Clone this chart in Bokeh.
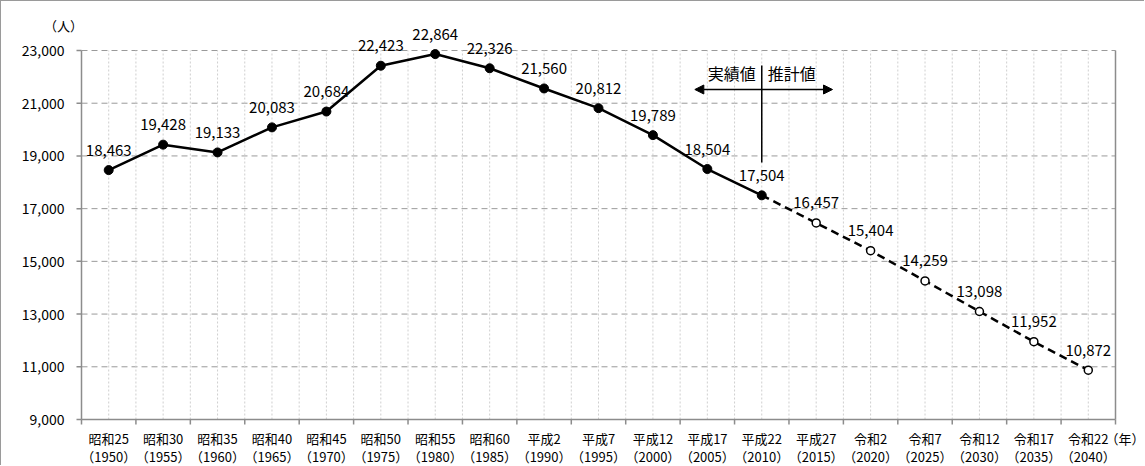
from bokeh.plotting import figure
from bokeh.models import (Range1d, LabelSet, Label, Arrow, NormalHead, ColumnDataSource)
from bokeh.core.properties import value
from bokeh.embed import file_html
from bokeh.resources import INLINE

# ---- data ----
eras = ["昭和25", "昭和30", "昭和35", "昭和40", "昭和45", "昭和50", "昭和55", "昭和60",
        "平成2", "平成7", "平成12", "平成17", "平成22", "平成27",
        "令和2", "令和7", "令和12", "令和17", "令和22"]
years = ["1950", "1955", "1960", "1965", "1970", "1975", "1980", "1985", "1990", "1995",
         "2000", "2005", "2010", "2015", "2020", "2025", "2030", "2035", "2040"]
actual = [18463, 19428, 19133, 20083, 20684, 22423, 22864, 22326, 21560, 20812,
          19789, 18504, 17504]
projected = [16457, 15404, 14259, 13098, 11952, 10872]
y_ticks = [9000, 11000, 13000, 15000, 17000, 19000, 21000, 23000]

FONT = "Noto Sans CJK JP"
GREY = "#8c8c8c"
GRID = "#9a9a9a"
n = len(eras)
centers = [i + 0.5 for i in range(n)]
bounds = list(range(n + 1))
n_act = len(actual)
YMIN, YMAX = y_ticks[0], y_ticks[-1]

# ---- page geometry (pixels) of the plotting area ----
W, H = 1144, 465               # canvas (plus 1px border left/top)
PX_LEFT, PX_RIGHT = 81, 1115   # x of category 0 start / last category end
PX_TOP, PX_BOTTOM = 50, 419    # y of YMAX / YMIN
ux = (PX_RIGHT - PX_LEFT) / n
uy = (YMAX - YMIN) / (PX_BOTTOM - PX_TOP)


def X(px):
    return (px - PX_LEFT) / ux


def Y(py):
    return YMAX - (py - PX_TOP) * uy


p = figure(width=W, height=H, title=None,
           x_range=Range1d(X(1), X(1 + W)), y_range=Range1d(Y(1 + H), Y(1)),
           output_backend="svg", toolbar_location=None,
           min_border=0, min_border_left=0, min_border_right=0,
           min_border_top=0, min_border_bottom=0)
p.styles = {"border-left": "1px solid #9a9a9a", "border-top": "1px solid #9a9a9a"}
p.outline_line_color = None
p.xaxis.visible = False
p.yaxis.visible = False
p.grid.visible = False

# ---- grid ----
gy = y_ticks[1:]
p.segment(x0=[0] * len(gy), y0=gy, x1=[n] * len(gy), y1=gy,
          line_color=GRID, line_width=1, line_dash="6 4")
vpos = sorted(centers + bounds[1:-1])
p.segment(x0=vpos, y0=[YMIN] * len(vpos), x1=vpos, y1=[YMAX] * len(vpos),
          line_color="#cfcfcf", line_width=1, line_dash="2 2")

# ---- axes ----
p.segment(x0=[0, n, 0], y0=[YMIN, YMIN, YMIN], x1=[0, n, n], y1=[YMAX, YMAX, YMIN],
          line_color=GREY, line_width=1.5)
p.segment(x0=[X(PX_LEFT - 5)] * len(y_ticks), y0=y_ticks, x1=[0] * len(y_ticks), y1=y_ticks,
          line_color=GREY, line_width=1.5)
p.segment(x0=bounds, y0=[YMIN] * len(bounds), x1=bounds, y1=[Y(PX_BOTTOM + 5)] * len(bounds),
          line_color=GREY, line_width=1.5)

ysrc = ColumnDataSource(dict(x=[0] * len(y_ticks), y=y_ticks, t=[f"{v:,}" for v in y_ticks]))
p.add_layout(LabelSet(x="x", y="y", text="t", source=ysrc, x_offset=-17,
                      text_align="right", text_baseline="middle",
                      text_font=value(FONT), text_font_size=value("14px"),
                      text_color="#000000"))

cat_src = ColumnDataSource(dict(x=centers, y=[YMIN] * n, era=eras,
                                yr=[f"（{y}）" for y in years]))
p.add_layout(LabelSet(x="x", y="y", text="era", source=cat_src, y_offset=-19,
                      text_align="center", text_baseline="middle",
                      text_font=value(FONT), text_font_size=value("13px"),
                      text_color="#000000"))
p.add_layout(LabelSet(x="x", y="y", text="yr", source=cat_src, y_offset=-37,
                      text_align="center", text_baseline="middle",
                      text_font=value(FONT), text_font_size=value("13px"),
                      text_color="#000000"))

p.add_layout(Label(x=0, y=YMAX, text="（人）", x_offset=-18, y_offset=PX_TOP - 25,
                   text_align="center", text_baseline="middle",
                   text_font=FONT, text_font_size="13px", text_color="#000000"))
p.add_layout(Label(x=n, y=YMIN, text="（年）", x_offset=-10, y_offset=-19,
                   text_align="left", text_baseline="middle",
                   text_font=FONT, text_font_size="13px", text_color="#000000"))

# ---- series ----
x_act = centers[:n_act]
x_proj = centers[n_act - 1:]
y_proj_line = [actual[-1]] + projected

p.line(x_proj, y_proj_line, line_color="black", line_width=2.5, line_dash="8 5")
p.line(x_act, actual, line_color="black", line_width=2.5)
p.scatter(x_act, actual, size=9, fill_color="black", line_color="black")
p.scatter(centers[n_act:], projected, size=8, fill_color="white", line_color="black",
          line_width=1.5)

all_vals = actual + projected
lab_src = ColumnDataSource(dict(x=centers, y=all_vals, t=[f"{v:,}" for v in all_vals]))
p.add_layout(LabelSet(x="x", y="y", text="t", source=lab_src, y_offset=20,
                      text_align="center", text_baseline="middle",
                      text_font=value(FONT), text_font_size=value("15px"),
                      text_color="#000000"))

# ---- actual / projection divider ----
x_div = centers[n_act - 1]
p.segment(x0=[x_div], y0=[Y(65)], x1=[x_div], y1=[Y(162)],
          line_color="black", line_width=1.5)
p.add_layout(Arrow(start=NormalHead(size=9, fill_color="black", line_color="black"),
                   end=NormalHead(size=9, fill_color="black", line_color="black"),
                   x_start=x_div - 1.23, x_end=x_div + 1.30,
                   y_start=Y(89), y_end=Y(89),
                   line_color="black", line_width=1.5))
p.add_layout(Label(x=x_div, y=Y(72), text="実績値", x_offset=-6,
                   text_align="right", text_baseline="middle",
                   text_font=FONT, text_font_size="16px", text_color="#000000"))
p.add_layout(Label(x=x_div, y=Y(72), text="推計値", x_offset=6,
                   text_align="left", text_baseline="middle",
                   text_font=FONT, text_font_size="16px", text_color="#000000"))

open("out.html", "w").write(file_html(p, INLINE))
